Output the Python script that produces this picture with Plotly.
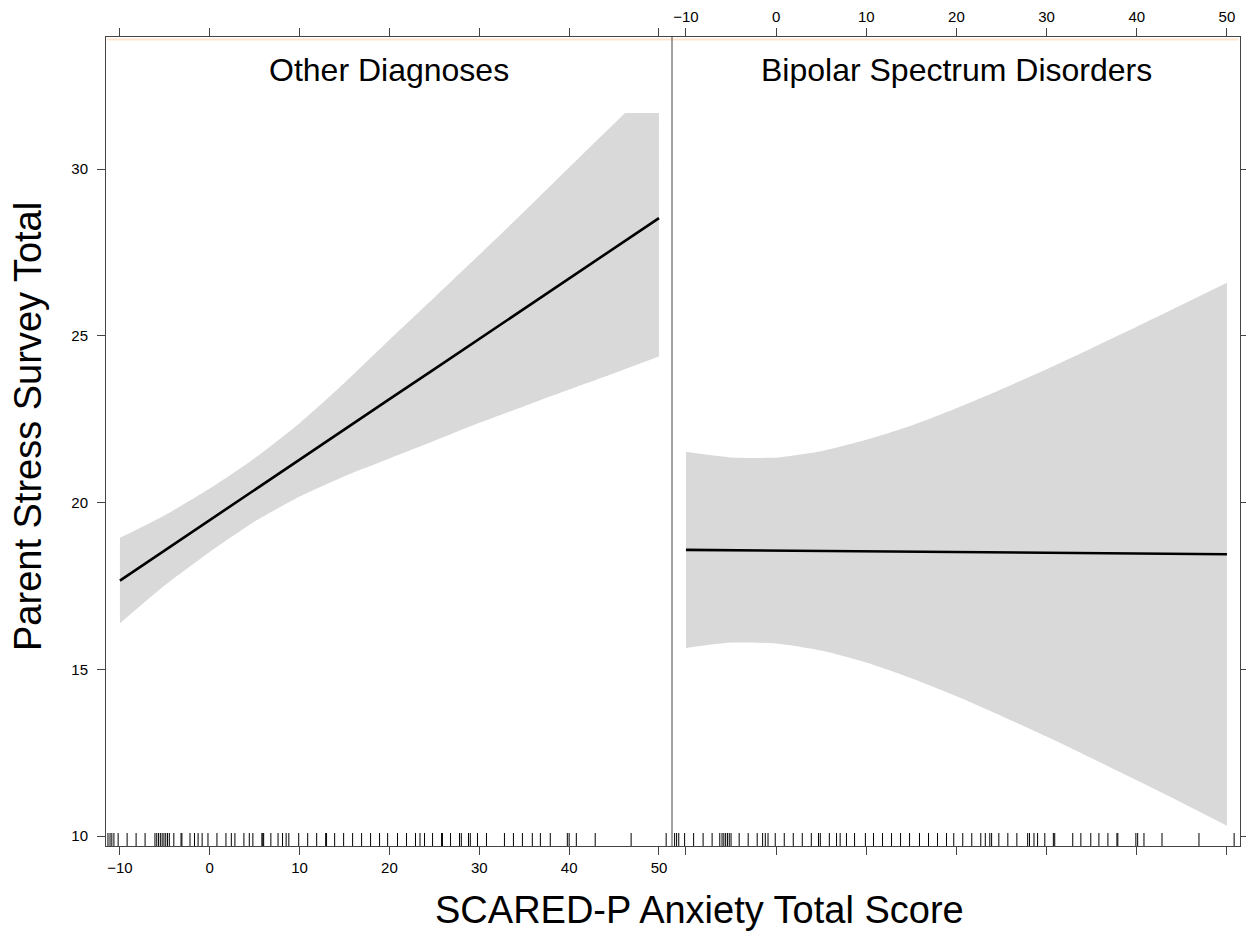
import plotly.graph_objects as go

# ---------------- data ----------------
x_grid = [-10, -5, 0, 5, 10, 15, 20, 25, 30, 35, 40, 45, 50]

other_fit = [17.66, 18.57, 19.47, 20.38, 21.28, 22.19, 23.10, 24.00, 24.91, 25.81, 26.72, 27.62, 28.53]
other_lower = [16.38, 17.52, 18.52, 19.43, 20.18, 20.79, 21.32, 21.85, 22.39, 22.89, 23.39, 23.88, 24.38]
other_upper = [18.94, 19.62, 20.42, 21.33, 22.38, 23.59, 24.88, 26.15, 27.43, 28.73, 30.05, 31.36, 32.68]

bipolar_fit = [18.58, 18.57, 18.56, 18.55, 18.54, 18.52, 18.51, 18.50, 18.49, 18.48, 18.47, 18.46, 18.45]
bipolar_lower = [15.64, 15.80, 15.77, 15.56, 15.20, 14.73, 14.19, 13.60, 12.98, 12.33, 11.67, 11.00, 10.31]
bipolar_upper = [21.52, 21.35, 21.35, 21.54, 21.88, 22.31, 22.83, 23.40, 24.00, 24.63, 25.27, 25.93, 26.59]

rug_other = [-11.33, -11.1, -10.9, -10.67, -10.2, -9.2, -8.2, -7.2, -6.1, -5.9, -5.7, -5.5, -5.3,
             -5.1, -4.9, -4.7, -4.5, -4.0, -3.2, -3.1, -2.2, -1.7, -1.3, -0.85, -0.2, 0.8, 1.8,
             2.4, 2.8, 3.8, 4.4, 4.8, 5.8, 5.9, 6.0, 6.8, 7.6, 8.1, 8.5, 8.8, 9.9, 10.9, 11.9,
             12.9, 13.0, 13.9, 14.9, 15.9, 16.9, 17.9, 18.9, 19.8, 20.9, 21.9, 22.9, 23.4, 23.9,
             24.8, 25.8, 25.9, 26.8, 27.8, 28.0, 28.8, 29.0, 29.8, 30.8, 32.8, 33.8, 34.8, 35.9,
             36.8, 37.9, 39.8, 40.0, 40.8, 42.9, 46.9, 50.8]
rug_bipolar = [-11.26, -11.04, -10.8, -10.15, -9.15, -8.1, -7.1, -6.25, -6.0, -5.8, -5.6, -5.4,
               -5.2, -5.0, -4.1, -3.1, -2.1, -1.5, -1.2, -0.9, -0.1, 0.9, 1.9, 2.9, 3.9, 4.7,
               4.9, 5.9, 6.7, 7.1, 7.8, 8.7, 9.9, 10.8, 11.8, 12.8, 13.8, 14.8, 15.9, 16.9,
               17.9, 18.9, 19.7, 20.7, 21.7, 22.7, 23.2, 23.7, 23.9, 24.7, 25.7, 26.7, 27.9,
               28.1, 28.6, 29.0, 29.8, 30.75, 30.9, 32.9, 33.8, 34.9, 35.8, 36.8, 37.8, 37.9,
               39.9, 40.1, 40.8, 42.8, 46.9, 50.8]

x_ticks = [-10, 0, 10, 20, 30, 40, 50]
y_ticks = [10, 15, 20, 25, 30]
panel_titles = ["Other Diagnoses", "Bipolar Spectrum Disorders"]
x_title = "SCARED-P Anxiety Total Score"
y_title = "Parent Stress Survey Total"

# ---------------- layout constants ----------------
W, H = 1246, 934
ML, MR, MT, MB = 106, 6, 37, 88
PW = W - ML - MR
PH = H - MT - MB
split = (672 - ML) / PW
XR = [-11.55, 51.45]
YR = [9.70, 33.96]
rug_len = 0.39
strip_bottom = (846 - 113) / PH
FONT = "Liberation Sans, Arial, sans-serif"
AX = "#444444"
BAND = "#D9D9D9"

fig = go.Figure()

panels = [
    (other_fit, other_lower, other_upper, rug_other, "x", "y"),
    (bipolar_fit, bipolar_lower, bipolar_upper, rug_bipolar, "x2", "y2"),
]
for fit, lo, up, rug, xa, ya in panels:
    fig.add_trace(go.Scatter(
        x=x_grid, y=lo, mode="lines", line=dict(width=0, shape="spline", smoothing=0.6),
        hoverinfo="skip", showlegend=False, xaxis=xa, yaxis=ya))
    fig.add_trace(go.Scatter(
        x=x_grid, y=up, mode="lines", fill="tonexty", fillcolor=BAND,
        line=dict(width=0, shape="spline", smoothing=0.6),
        hoverinfo="skip", showlegend=False, xaxis=xa, yaxis=ya))
    fig.add_trace(go.Scatter(
        x=x_grid, y=fit, mode="lines", line=dict(color="black", width=2.6),
        showlegend=False, xaxis=xa, yaxis=ya))
    rx, ry = [], []
    for v in rug:
        rx += [v, v, None]
        ry += [YR[0], YR[0] + rug_len, None]
    fig.add_trace(go.Scatter(
        x=rx, y=ry, mode="lines", line=dict(color="black", width=1),
        hoverinfo="skip", showlegend=False, xaxis=xa, yaxis=ya))

axis_common = dict(
    range=XR, tickvals=x_ticks, ticks="outside", ticklen=8, tickcolor=AX, tickwidth=1,
    showline=True, linecolor=AX, linewidth=1, mirror="ticks", showgrid=False,
    zeroline=False, automargin=False, tickfont=dict(family=FONT, size=15, color="black"),
)
yaxis_common = dict(
    range=YR, tickvals=y_ticks, ticks="outside", ticklen=8, tickcolor=AX, tickwidth=1,
    showline=True, linecolor=AX, linewidth=1, showgrid=False, zeroline=False,
    automargin=False, tickfont=dict(family=FONT, size=15, color="black"), domain=[0, 1],
)

fig.update_layout(
    width=W, height=H, autosize=False,
    margin=dict(l=ML, r=MR, t=MT, b=MB, pad=0, autoexpand=False),
    paper_bgcolor="white", plot_bgcolor="white",
    font=dict(family=FONT, color="black"),
    showlegend=False,
    xaxis=dict(domain=[0, split], anchor="y", side="bottom", **axis_common),
    xaxis2=dict(domain=[split, 1], anchor="y2", side="top", **axis_common),
    yaxis=dict(anchor="x", side="left", ticklabelstandoff=6, **yaxis_common),
    yaxis2=dict(anchor="x2", side="right", showticklabels=False, **yaxis_common),
)

shapes = []
# strip areas (cover the data above the panel region)
for x0, x1 in [(0, split), (split, 1)]:
    shapes.append(dict(type="rect", xref="paper", yref="paper",
                       x0=x0 + 1.5 / PW, x1=x1 - 1.5 / PW,
                       y0=strip_bottom, y1=1 - 1.5 / PH,
                       fillcolor="white", line=dict(width=0), layer="above"))
# thin strip colour just under the top border
shapes.append(dict(type="line", xref="paper", yref="paper", x0=1.5 / PW, x1=1 - 1.5 / PW,
                   y0=1 - 2.5 / PH, y1=1 - 2.5 / PH,
                   line=dict(color="#FFE5CC", width=2), layer="above"))
# separator between the panels
shapes.append(dict(type="line", xref="paper", yref="paper", x0=split, x1=split, y0=0, y1=1,
                   line=dict(color=AX, width=1), layer="above"))
fig.update_layout(shapes=shapes)

annotations = [
    dict(text=panel_titles[0], x=split / 2, y=(846 - 70) / PH, xref="paper", yref="paper",
         showarrow=False, font=dict(family=FONT, size=32, color="black"),
         xanchor="center", yanchor="middle"),
    dict(text=panel_titles[1], x=(split + 1) / 2, y=(846 - 70) / PH, xref="paper", yref="paper",
         showarrow=False, font=dict(family=FONT, size=32, color="black"),
         xanchor="center", yanchor="middle"),
    dict(text=x_title, x=(699 - ML) / PW, y=(846 - 910) / PH, xref="paper", yref="paper",
         showarrow=False, font=dict(family=FONT, size=38, color="black"),
         xanchor="center", yanchor="middle"),
    dict(text=y_title, x=(28 - ML) / PW, y=(846 - 427) / PH, xref="paper", yref="paper",
         showarrow=False, textangle=-90, font=dict(family=FONT, size=38, color="black"),
         xanchor="center", yanchor="middle"),
]
fig.update_layout(annotations=annotations)

fig.write_html(
    "out.html",
    config={"displayModeBar": False, "responsive": False},
    post_script="document.body.style.margin='0px';document.body.style.overflow='hidden';",
)
